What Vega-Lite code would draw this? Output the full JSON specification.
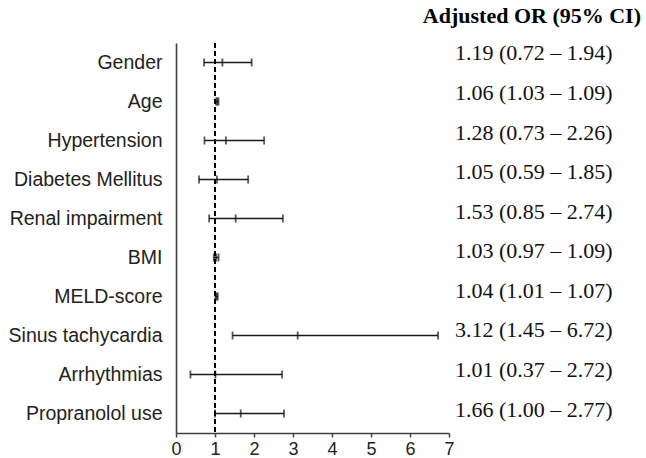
{
  "$schema": "https://vega.github.io/schema/vega-lite/v6.json",
  "padding": {"left": 8, "top": 5, "right": 4, "bottom": 0},
  "background": "white",
  "bounds": "flush",
  "spacing": 6,
  "title": {"text": "Adjusted OR (95% CI)", "anchor": "end", "font": "Liberation Serif", "fontSize": 22, "fontWeight": "bold", "color": "#000000", "offset": 14},
  "config": {
    "view": {"stroke": null},
    "axis": {"grid": false, "title": null}
  },
  "data": {"values": [
    {"name": "Gender", "or": 1.19, "lo": 0.72, "hi": 1.94, "txt": "1.19 (0.72 – 1.94)", "col": "OR"},
    {"name": "Age", "or": 1.06, "lo": 1.03, "hi": 1.09, "txt": "1.06 (1.03 – 1.09)", "col": "OR"},
    {"name": "Hypertension", "or": 1.28, "lo": 0.73, "hi": 2.26, "txt": "1.28 (0.73 – 2.26)", "col": "OR"},
    {"name": "Diabetes Mellitus", "or": 1.05, "lo": 0.59, "hi": 1.85, "txt": "1.05 (0.59 – 1.85)", "col": "OR"},
    {"name": "Renal impairment", "or": 1.53, "lo": 0.85, "hi": 2.74, "txt": "1.53 (0.85 – 2.74)", "col": "OR"},
    {"name": "BMI", "or": 1.03, "lo": 0.97, "hi": 1.09, "txt": "1.03 (0.97 – 1.09)", "col": "OR"},
    {"name": "MELD-score", "or": 1.04, "lo": 1.01, "hi": 1.07, "txt": "1.04 (1.01 – 1.07)", "col": "OR"},
    {"name": "Sinus tachycardia", "or": 3.12, "lo": 1.45, "hi": 6.72, "txt": "3.12 (1.45 – 6.72)", "col": "OR"},
    {"name": "Arrhythmias", "or": 1.01, "lo": 0.37, "hi": 2.72, "txt": "1.01 (0.37 – 2.72)", "col": "OR"},
    {"name": "Propranolol use", "or": 1.66, "lo": 1.00, "hi": 2.77, "txt": "1.66 (1.00 – 2.77)", "col": "OR"}
  ]},
  "hconcat": [
    {
      "width": 273,
      "height": 390,
      "layer": [
        {
          "mark": {"type": "rule", "color": "#1a1a1a", "strokeWidth": 1.6},
          "encoding": {
            "y": {"field": "name", "type": "nominal", "sort": null, "scale": {"type": "point", "padding": 0.5},
                  "axis": {"domain": true, "domainColor": "#404040", "domainWidth": 1.6, "ticks": false, "labelFont": "Liberation Sans", "labelFontSize": 19.5, "labelColor": "#222222", "labelPadding": 14}},
            "x": {"field": "lo", "type": "quantitative", "scale": {"domain": [0, 7], "nice": false},
                  "axis": {"values": [0, 1, 2, 3, 4, 5, 6, 7], "tickCount": 8, "labelOverlap": false, "domainColor": "#404040", "domainWidth": 1.6, "tickColor": "#404040", "tickSize": 4, "tickWidth": 1.5, "labelFont": "Liberation Sans", "labelFontSize": 18, "labelColor": "#222222", "labelPadding": 3, "labelFlush": false}},
            "x2": {"field": "hi"}
          }
        },
        {
          "transform": [{"fold": ["lo", "or", "hi"], "as": ["k", "v"]}],
          "mark": {"type": "tick", "color": "#111111", "size": 8, "thickness": 1.8},
          "encoding": {
            "y": {"field": "name", "type": "nominal", "sort": null},
            "x": {"field": "v", "type": "quantitative",
                  "axis": {"values": [0, 1, 2, 3, 4, 5, 6, 7], "tickCount": 8, "labelOverlap": false, "domainColor": "#404040", "domainWidth": 1.6, "tickColor": "#404040", "tickSize": 4, "tickWidth": 1.5, "labelFont": "Liberation Sans", "labelFontSize": 18, "labelColor": "#222222", "labelPadding": 3, "labelFlush": false}}
          }
        },
        {
          "mark": {"type": "rule", "color": "#000000", "strokeWidth": 1.5, "strokeDash": [5, 3]},
          "encoding": {"x": {"datum": 1, "type": "quantitative",
                  "axis": {"values": [0, 1, 2, 3, 4, 5, 6, 7], "tickCount": 8, "labelOverlap": false, "domainColor": "#404040", "domainWidth": 1.6, "tickColor": "#404040", "tickSize": 4, "tickWidth": 1.5, "labelFont": "Liberation Sans", "labelFontSize": 18, "labelColor": "#222222", "labelPadding": 3, "labelFlush": false}}}
        }
      ]
    },
    {
      "width": 186,
      "height": 390,
      "mark": {"type": "text", "align": "left", "baseline": "middle", "font": "Liberation Serif", "fontSize": 22, "color": "#111111", "dy": -6.5},
      "encoding": {
        "y": {"field": "name", "type": "nominal", "sort": null, "scale": {"type": "point", "padding": 0.425}, "axis": null},
        "x": {"field": "col", "type": "nominal", "axis": null, "scale": {"type": "band", "paddingInner": 0, "paddingOuter": 0}, "bandPosition": 0},
        "text": {"field": "txt"}
      }
    }
  ]
}
